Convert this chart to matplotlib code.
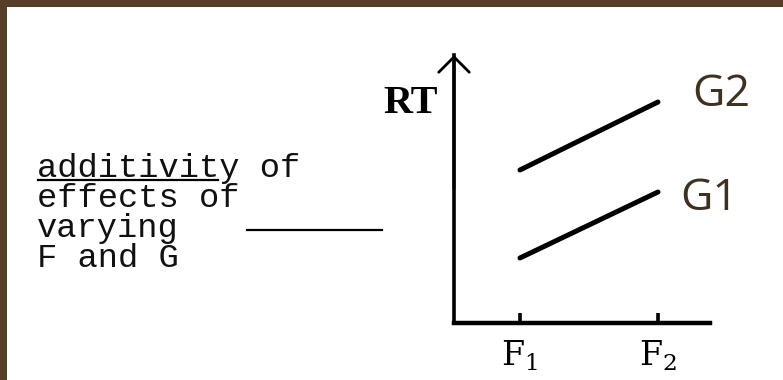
import matplotlib
matplotlib.use("Agg")
import matplotlib.pyplot as plt
from matplotlib.lines import Line2D
from matplotlib.patches import Rectangle

# factor F levels and mean RT (arbitrary units) for each level of G
f_levels = [1, 2]
f_labels = [r"$\mathrm{F}_1$", r"$\mathrm{F}_2$"]
rt_g1 = [0.65, 1.31]
rt_g2 = [1.53, 2.21]
group_names = ["G1", "G2"]

caption = ["additivity of", "effects of", "varying", "F and G"]

W, H = 783, 380
BROWN = "#553f28"
LABEL_BROWN = "#3f3121"

plt.rcParams["mathtext.fontset"] = "dejavuserif"

fig = plt.figure(figsize=(W / 100, H / 100), dpi=100)
fig.patch.set_facecolor("white")


def fx(px):
    return px / W


def fy(py):
    return 1 - py / H


# frame strips along the top and left edge
fig.add_artist(Rectangle((0, fy(7)), 1, 7 / H, transform=fig.transFigure,
                         facecolor=BROWN, edgecolor="none"))
fig.add_artist(Rectangle((0, 0), fx(7), 1, transform=fig.transFigure,
                         facecolor=BROWN, edgecolor="none"))

# caption on the left, typewriter style
for i, line in enumerate(caption):
    fig.text(fx(37), fy(177 + 30 * i), line, family="Liberation Mono",
             fontsize=24.3, ha="left", va="baseline", color="#111111")
fig.add_artist(Line2D([fx(38), fx(218)], [fy(180), fy(180)],
                      transform=fig.transFigure, color="black", lw=1.6))
fig.add_artist(Line2D([fx(247), fx(382)], [fy(230), fy(230)],
                      transform=fig.transFigure, color="black", lw=1.6))

# ------------------------------------------------------------------ graph
ax = fig.add_axes([fx(454), fy(323), fx(710) - fx(454), (323 - 55) / H])
ax.set_facecolor("none")
ax.set_xlim(0.522, 2.377)
ax.set_ylim(0, 2.68)

for side in ("top", "right"):
    ax.spines[side].set_visible(False)
ax.spines["left"].set_linewidth(2.6)
ax.spines["bottom"].set_linewidth(3.2)
ax.spines["left"].set_capstyle("projecting")
ax.spines["bottom"].set_capstyle("projecting")

# open arrowhead on the RT axis
ax.annotate("", xy=(0, 1), xytext=(0, 0.5), xycoords="axes fraction",
            arrowprops=dict(arrowstyle="->,head_length=0.55,head_width=0.55",
                            lw=2.0, color="black", mutation_scale=20,
                            shrinkA=0, shrinkB=0))

ax.plot(f_levels, rt_g1, color="black", lw=3.6, solid_capstyle="round")
ax.plot(f_levels, rt_g2, color="black", lw=3.6, solid_capstyle="round")

ax.annotate(group_names[1], (f_levels[1], rt_g2[1]), xytext=(25, 5),
            textcoords="offset points", ha="left", va="center",
            family="Open Sans", fontsize=32, color=LABEL_BROWN)
ax.annotate(group_names[0], (f_levels[1], rt_g1[1]), xytext=(16, -5),
            textcoords="offset points", ha="left", va="center",
            family="Open Sans", fontsize=32, color=LABEL_BROWN)

ax.text(-0.062, 0.82, "RT", transform=ax.transAxes, ha="right",
        va="center", family="Liberation Serif", fontweight="bold",
        fontsize=29)

ax.set_xticks(f_levels)
ax.set_xticklabels(f_labels, fontsize=24)
ax.set_yticks([])
ax.tick_params(axis="x", direction="in", length=7, width=2.6, pad=11)

fig.savefig("out.png", dpi=100)
